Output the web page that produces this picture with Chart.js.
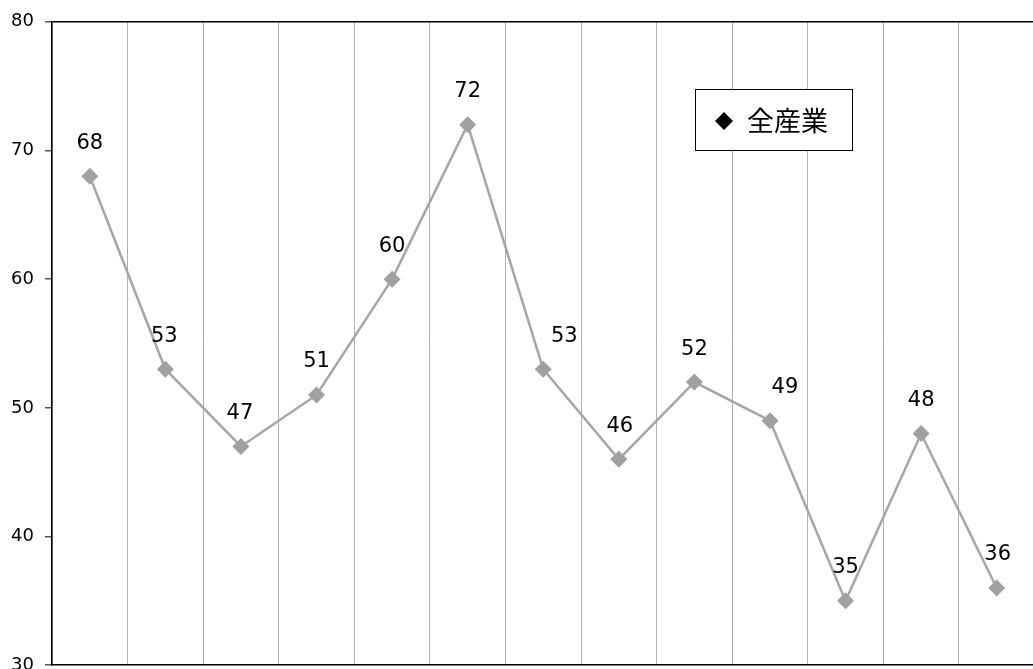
<!DOCTYPE html>
<html><head><meta charset="utf-8">
<script src="https://cdn.jsdelivr.net/npm/chart.js@4/dist/chart.umd.min.js"></script>
<style>
html,body{margin:0;padding:0;overflow:hidden;background:#fff;width:1033px;height:669px;}
#wrap{position:absolute;left:0;top:0;width:1043px;height:687px;}
</style></head>
<body><div id="wrap"><canvas id="c"></canvas></div>
<script>
const categories = ['1','2','3','4','5','6','7','8','9','10','11','12','13'];
const seriesName = '全産業';
const values = [68, 53, 47, 51, 60, 72, 53, 46, 52, 49, 35, 48, 36];
const yTicks = [30, 40, 50, 60, 70, 80];

const labelPlugin = {
  id: 'labels',
  afterDatasetsDraw(chart) {
    const ctx = chart.ctx;
    const meta = chart.getDatasetMeta(0);
    const dx = [0,-1,-1,0,0,0,21,1,0,15,0,0,1];
    ctx.save();
    ctx.font = '21px "DejaVu Sans"';
    ctx.fillStyle = '#000';
    ctx.textAlign = 'center';
    ctx.textBaseline = 'middle';
    meta.data.forEach((p, i) => {
      ctx.fillText(String(values[i]), p.x + dx[i], p.y - 33);
    });
    ctx.restore();
  }
};
const legendPlugin = {
  id: 'boxLegend',
  afterDraw(chart) {
    const ctx = chart.ctx;
    ctx.save();
    const x = 695.5, y = 89.5, w = 157, h = 61;
    ctx.fillStyle = '#fff';
    ctx.fillRect(x, y, w, h);
    ctx.strokeStyle = '#000';
    ctx.lineWidth = 1;
    ctx.strokeRect(x, y, w, h);
    ctx.fillStyle = '#000';
    const cx = 724, cy = 121, r = 9;
    ctx.beginPath();
    ctx.moveTo(cx, cy - r); ctx.lineTo(cx + r, cy); ctx.lineTo(cx, cy + r); ctx.lineTo(cx - r, cy);
    ctx.closePath(); ctx.fill();
    ctx.font = '27px "Noto Sans CJK JP"';
    ctx.textBaseline = 'middle';
    ctx.textAlign = 'left';
    ctx.fillText(seriesName, 747, 121);
    ctx.restore();
  }
};

new Chart(document.getElementById('c'), {
  type: 'line',
  data: {
    labels: categories,
    datasets: [{
      label: seriesName,
      data: values,
      borderColor: '#a6a6a6',
      borderWidth: 2.5,
      backgroundColor: '#a0a0a0',
      pointBackgroundColor: '#a0a0a0',
      pointBorderColor: '#a0a0a0',
      pointStyle: 'rectRot',
      pointRadius: 8.5,
      pointBorderWidth: 0,
      tension: 0
    }]
  },
  options: {
    responsive: true,
    maintainAspectRatio: false,
    animation: false,
    layout: { padding: { left: 0, top: 19, right: 0, bottom: 4 } },
    plugins: { legend: { display: false }, tooltip: { enabled: false } },
    scales: {
      x: {
        type: 'category',
        offset: true,
        afterFit(scale) { scale.height = 0; },
        grid: { display: true, offset: true, color: '#b0b0b0', lineWidth: 1, drawTicks: false, tickLength: 0 },
        border: { display: true, color: '#000', width: 1.5 },
        ticks: { display: false }
      },
      y: {
        min: 30, max: 80,
        afterFit(scale) { scale.width = 52; },
        afterBuildTicks(scale) { scale.ticks = yTicks.map(v => ({ value: v })); },
        grid: {
          color: ctx => (ctx.tick && ctx.tick.value === 80) ? '#000' : 'rgba(0,0,0,0)',
          lineWidth: 1.5,
          drawTicks: true,
          tickLength: 7,
          tickColor: '#555'
        },
        border: { display: true, color: '#000', width: 1.5 },
        ticks: { font: { family: 'DejaVu Sans', size: 18 }, color: '#000', padding: 11 }
      }
    }
  },
  plugins: [labelPlugin, legendPlugin]
});
</script></body></html>
